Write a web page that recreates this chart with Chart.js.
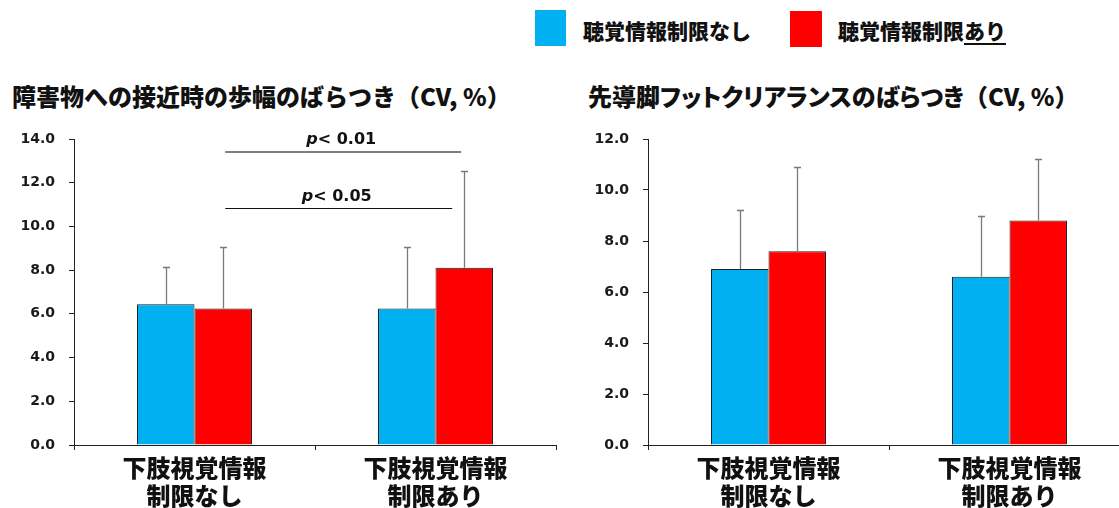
<!DOCTYPE html>
<html lang="ja">
<head>
<meta charset="utf-8">
<title>歩幅とフットクリアランスのばらつき</title>
<script src="https://cdn.jsdelivr.net/npm/chart.js@4"></script>
<style>
  html, body { margin: 0; padding: 0; background: #fff; }
  body { width: 1119px; height: 508px; overflow: hidden; position: relative;
         font-family: 'Noto Sans CJK JP', 'Noto Sans', sans-serif; color: #111; }
  canvas { position: absolute; }
  .title { position: absolute; font-weight: 900; font-size: 24px; line-height: 24px; white-space: nowrap; }
  .title .prop { font-feature-settings: "palt"; }
  .swatch { position: absolute; }
  .legend-text { position: absolute; font-weight: 900; font-size: 21px; line-height: 21px; white-space: nowrap; }
  .legend-text .ul { text-decoration: underline; text-decoration-thickness: 2px; text-underline-offset: 4px; }
</style>
</head>
<body>

<div class="swatch" style="left:535px; top:10px; width:31px; height:36px; background:#00B0F0;"></div>
<div class="legend-text" style="left:583px; top:20px;">聴覚情報制限なし</div>
<div class="swatch" style="left:790px; top:11px; width:32px; height:36px; background:#FF0000;"></div>
<div class="legend-text" style="left:838px; top:20px;">聴覚情報制限<span class="ul">あり</span></div>

<div class="title" style="left:12px; top:84px;">障害物への接近時の歩幅のばらつき（CV, %）</div>
<div class="title" style="left:588px; top:84px;"><span class="prop">先導脚フットクリアランスのばらつき</span>（CV, %）</div>

<canvas id="stepChart" width="566" height="410" style="left:0px; top:110px;"></canvas>
<canvas id="clearChart" width="580" height="410" style="left:560px; top:110px;"></canvas>

<script>
// Categories (x axis), two lines each
const categories = [['下肢視覚情報', '制限なし'], ['下肢視覚情報', '制限あり']];
const seriesNames = ['聴覚情報制限なし', '聴覚情報制限あり'];

// Step length variability (CV, %): mean and SD per category
const stepMeanAudOff = [6.44, 6.25];
const stepMeanAudOn  = [6.25, 8.11];
const stepSdAudOff   = [1.72, 2.79];
const stepSdAudOn    = [2.79, 4.42];

// Lead-limb foot clearance variability (CV, %): mean and SD per category
const clearMeanAudOff = [6.9, 6.6];
const clearMeanAudOn  = [7.6, 8.8];
const clearSdAudOff   = [2.3, 2.4];
const clearSdAudOn    = [3.3, 2.4];

// Significance annotations for the step length chart
const sigLabels = ['< 0.01', '< 0.05'];

const COLORS = { off: '#00B0F0', on: '#FF0000', edge: '#1e1e1e', axis: '#222222', err: '#7a7a7a' };
const CJK = "'Noto Sans CJK JP', 'Noto Sans', sans-serif";

// Upper SD whiskers drawn from each dataset's `errors` array
const errorBars = {
  id: 'errorBars',
  afterDatasetsDraw(chart, args, opts) {
    const { ctx } = chart;
    const ys = chart.scales.y;
    chart.data.datasets.forEach((ds, di) => {
      const meta = chart.getDatasetMeta(di);
      meta.data.forEach((bar, i) => {
        const v = ds.data[i], e = ds.errors[i];
        const x = Math.round(bar.x) + 0.5;
        const yBase = ys.getPixelForValue(v);
        const yTop = Math.round(ys.getPixelForValue(v + e)) + 0.5;
        ctx.save();
        ctx.strokeStyle = opts.color;
        ctx.lineWidth = opts.width;
        ctx.beginPath();
        ctx.moveTo(x, yBase);
        ctx.lineTo(x, yTop);
        ctx.moveTo(x - opts.cap, yTop);
        ctx.lineTo(x + opts.cap, yTop);
        ctx.stroke();
        ctx.restore();
      });
    });
  }
};

// Horizontal significance lines with "p< ..." labels
const sigBrackets = {
  id: 'sigBrackets',
  afterDatasetsDraw(chart, args, opts) {
    const items = opts.items || [];
    const { ctx } = chart;
    const ys = chart.scales.y;
    items.forEach(it => {
      const a = chart.getDatasetMeta(it.from[0]).data[it.from[1]];
      const b = chart.getDatasetMeta(it.to[0]).data[it.to[1]];
      const x1 = a.x + it.dx1, x2 = b.x + it.dx2;
      const y = Math.round(ys.getPixelForValue(it.level)) + (it.width % 2 ? 0.5 : 0);
      ctx.save();
      ctx.strokeStyle = it.color;
      ctx.lineWidth = it.width;
      ctx.beginPath();
      ctx.moveTo(x1, y);
      ctx.lineTo(x2, y);
      ctx.stroke();

      const fontP = "italic bold 16px 'DejaVu Sans'";
      const fontR = "bold 16px 'DejaVu Sans'";
      ctx.font = fontP;
      const wP = ctx.measureText('p').width;
      ctx.font = fontR;
      const wR = ctx.measureText(it.text).width;
      const start = (x1 + x2) / 2 - (wP + wR) / 2 - 2;
      ctx.fillStyle = '#111';
      ctx.textBaseline = 'alphabetic';
      ctx.textAlign = 'left';
      ctx.font = fontP;
      ctx.fillText('p', start, y - 8);
      ctx.font = fontR;
      ctx.fillText(it.text, start + wP, y - 8);
      ctx.restore();
    });
  }
};

function buildChart(id, meansOff, meansOn, sdOff, sdOn, yMax, axisWidth, sigItems) {
  return new Chart(document.getElementById(id), {
    type: 'bar',
    data: {
      labels: categories,
      datasets: [
        { label: seriesNames[0], data: meansOff, errors: sdOff, backgroundColor: COLORS.off,
          borderColor: COLORS.edge, borderWidth: 1 },
        { label: seriesNames[1], data: meansOn, errors: sdOn, backgroundColor: COLORS.on,
          borderColor: COLORS.edge, borderWidth: 1 }
      ]
    },
    options: {
      responsive: false,
      animation: false,
      devicePixelRatio: 1,
      categoryPercentage: 0.477,
      barPercentage: 1.0,
      layout: { padding: { top: 29, right: 10, left: 0, bottom: 0 } },
      plugins: {
        legend: { display: false },
        tooltip: { enabled: false },
        errorBars: { color: COLORS.err, width: 1.3, cap: 3.5 },
        sigBrackets: { items: sigItems }
      },
      scales: {
        x: {
          grid: { offset: true, drawOnChartArea: false, drawTicks: true, tickLength: 5, color: COLORS.axis },
          border: { color: COLORS.axis, width: 1 },
          ticks: { font: { family: CJK, size: 24, weight: '900', lineHeight: 1.15 }, color: '#111',
                   padding: 4, maxRotation: 0, autoSkip: false },
          afterFit(s) { s.height = 75; }
        },
        y: {
          min: 0, max: yMax,
          grid: { drawOnChartArea: false, drawTicks: true, tickLength: 5, color: COLORS.axis },
          border: { color: COLORS.axis, width: 1 },
          ticks: { stepSize: 2, callback: v => v.toFixed(1), padding: 14, color: '#1a1a1a',
                   font: { family: "'DejaVu Sans'", size: 14, weight: 'bold' } },
          afterFit(s) { s.width = axisWidth; }
        }
      }
    },
    plugins: [errorBars, sigBrackets]
  });
}

buildChart('stepChart', stepMeanAudOff, stepMeanAudOn, stepSdAudOff, stepSdAudOn, 14, 74, [
  { from: [1, 0], to: [1, 1], dx1: 2, dx2: -3, level: 13.4, width: 2, color: '#808080', text: sigLabels[0] },
  { from: [1, 0], to: [1, 1], dx1: 2, dx2: -12, level: 10.83, width: 1, color: '#111111', text: sigLabels[1] }
]);

buildChart('clearChart', clearMeanAudOff, clearMeanAudOn, clearSdAudOff, clearSdAudOn, 12, 88, []);
</script>
</body>
</html>
